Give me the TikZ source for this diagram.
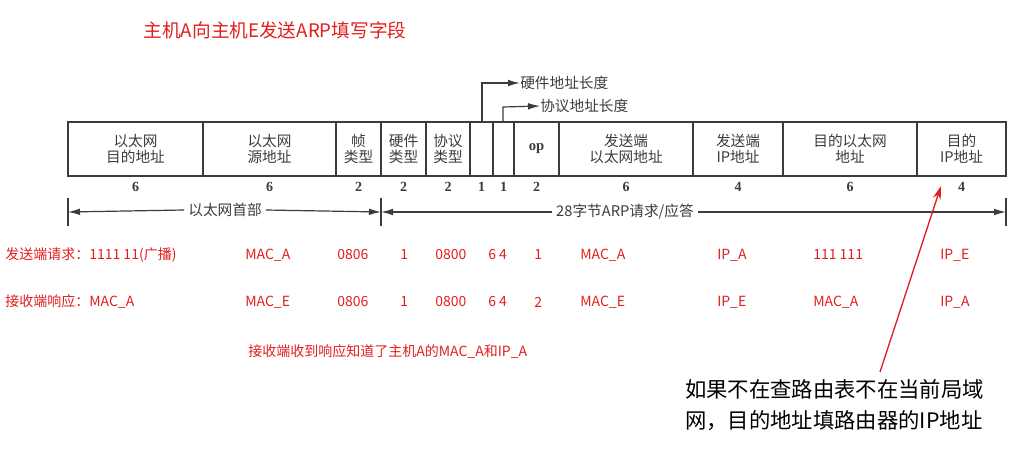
\documentclass[tikz,border=0pt]{standalone}
\usepackage{fontspec}
\setmainfont{Liberation Serif}
\newfontfamily\cjk{Noto Sans CJK SC}
\usetikzlibrary{arrows.meta}
\definecolor{rd}{RGB}{225,30,30}
\definecolor{gr}{RGB}{60,60,60}
\begin{document}
\begin{tikzpicture}[x=0.75pt,y=-0.75pt,
  fld/.style={draw=gr,line width=0.8pt,minimum height=40.5pt,inner sep=0pt,font=\cjk\fontsize{11}{12}\selectfont,text=gr,align=center},
  num/.style={font=\bfseries\fontsize{10.5}{11}\selectfont,text=gr},
  rt/.style={text=rd,font=\cjk\fontsize{10.5}{12}\selectfont,anchor=west,inner sep=0pt},
  arr/.style={draw=gr,line width=0.9pt,-{Latex[length=9pt,width=5pt]}}]
\useasboundingbox (0,0) rectangle (1026,453);
\node[text=rd,font=\cjk\fontsize{14}{16}\selectfont] (title) at (275,30) {主机A向主机E发送ARP填写字段};
% fields
\foreach \a/\b/\t/\n/\nm in {68/203/{以太网\\目的地址}/6/f1,203/336/{以太网\\源地址}/6/f2,336/381/{帧\\类型}/2/f3,381/426/{硬件\\类型}/2/f4,426/470/{协议\\类型}/2/f5,470/493/{}/1/f6,493/514/{}/1/f7,514/559/{\bfseries\rmfamily op}/2/f8,559/693/{发送端\\以太网地址}/6/f9,693/783/{发送端\\IP地址}/4/f10,783/917/{目的以太网\\地址}/6/f11,917/1006/{目的\\IP地址}/4/f12}{
  \node[fld,minimum width={(\b-\a)*0.75pt}] (\nm) at ({(\a+\b)/2},149) {\t};
  \node[num] at ({(\a+\b)/2},187) {\n};
}
\coordinate (h0) at (482,123); \coordinate (h1) at (482,83);
\node[anchor=west,inner sep=0pt,text=gr,font=\cjk\fontsize{11}{12}\selectfont] (hw) at (520,83) {硬件地址长度};
\draw[arr] (h0) -- (h1) -- (hw.west);
\coordinate (p0) at (503,123); \coordinate (p1) at (503,107);
\node[anchor=west,inner sep=0pt,text=gr,font=\cjk\fontsize{11}{12}\selectfont] (pr) at (540,106) {协议地址长度};
\draw[arr] (p0) -- (p1) -- (pr.west);
% bottom brace arrows
\coordinate (L) at (68,212); \coordinate (M) at (381,212); \coordinate (R) at (1006,212);
\draw[gr,line width=0.8pt] (68,198) -- (68,226) (381,198) -- (381,226) (1006,198) -- (1006,226);
\node[text=gr,font=\cjk\fontsize{11}{12}\selectfont,fill=white,inner sep=3pt] (eh) at (225,210) {以太网首部};
\node[text=gr,font=\cjk\fontsize{11}{12}\selectfont,fill=white,inner sep=3pt] (ap) at (625,212) {28字节ARP请求/应答};
\draw[arr] (eh.west) -- (L); \draw[arr] (eh.east) -- (M);
\draw[arr] (ap.west) -- (M); \draw[arr] (ap.east) -- (R);
% rows
\foreach \y/\a/\b/\c/\d/\e/\f/\g/\h/\i/\j/\k in {255/{发送端请求：1111 11(广播)}/MAC\_A/0806/1/0800/6 4/1/MAC\_A/IP\_A/111 111/IP\_E,302/{接收端响应：MAC\_A}/MAC\_E/0806/1/0800/6 4/2/MAC\_E/IP\_E/MAC\_A/IP\_A}{
  \node[rt] at (5,\y) {\a}; \node[rt] at (245,\y) {\b}; \node[rt] at (337,\y) {\c};
  \node[rt] at (400,\y) {\d}; \node[rt] at (435,\y) {\e}; \node[rt] at (488,\y) {\f};
  \node[rt] at (534,\y) {\g}; \node[rt] at (580,\y) {\h}; \node[rt] at (717,\y) {\i};
  \node[rt] at (813,\y) {\j}; \node[rt] at (940,\y) {\k};
}
\node[rt] (rx) at (248,352) {接收端收到响应知道了主机A的MAC\_A和IP\_A};
\node[anchor=west,inner sep=0pt,align=left,font=\cjk\fontsize{16}{23}\selectfont] (note) at (685,405) {如果不在查路由表不在当前局域\\网，目的地址填路由器的IP地址};
\coordinate (na) at (880,372);
\draw[rd,line width=1pt,-{Stealth[length=10pt,width=6pt]}] (na) -- (941,186);
\end{tikzpicture}
\end{document}
